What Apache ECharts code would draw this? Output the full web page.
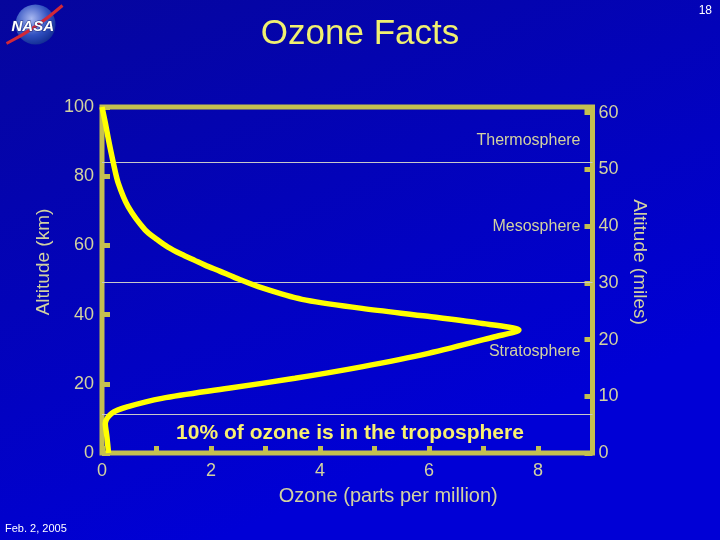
<!DOCTYPE html>
<html><head><meta charset="utf-8">
<script src="https://cdn.jsdelivr.net/npm/echarts@6/dist/echarts.min.js"></script>
<style>html,body{margin:0;padding:0;background:#0000c0}#c{width:720px;height:540px}</style>
</head><body><div id="c"></div>
<script>
// Ozone profile (ppm vs km)
const ozonePpm   = [0, 0.06, 0.12, 0.21, 0.30, 0.48, 0.79, 1.01, 1.21, 1.45, 1.71, 1.89, 2.17, 2.44, 2.94, 3.67, 4.77, 5.98, 6.90, 7.65, 7.21, 5.99, 4.76, 3.54, 2.32, 1.10, 0.48, 0.18, 0.06, 0.09, 0.12];
const altitudeKm = [100, 95.5, 90.5, 83.7, 77.9, 71.2, 64.5, 61.7, 59.5, 57.5, 55.6, 54.3, 52.5, 50.7, 47.7, 44.4, 41.8, 39.5, 37.6, 35.5, 33.6, 28.8, 24.9, 21.6, 18.7, 15.8, 13.4, 11.5, 8.6, 4.7, 0];
const layerBoundariesKm = [84, 49.3, 11.2];
const layerNames = ['Thermosphere', 'Mesosphere', 'Stratosphere'];
const layerLabelKm = [90.2, 65.4, 29.3];
const layerLabelPpm = [8.78, 8.78, 8.78];
const noteText = '10% of ozone is in the troposphere';
const notePos = [4.55, 5.7];
const xRange = [0, 9];
const kmRange = [0, 100];
const milesRange = [0, 61];

const khaki = '#c4c050';
const labelCol = '#d2d2a0';

const chart = echarts.init(document.getElementById('c'));
chart.setOption({
  backgroundColor: new echarts.graphic.LinearGradient(0, 0, 0.3, 1, [
    {offset: 0, color: '#06069c'}, {offset: 1, color: '#0000d6'}]),
  animation: false,
  title: {text: 'Ozone Facts', left: 'center', top: 12,
    textStyle: {color: '#f0f070', fontSize: 35, fontWeight: 'normal', fontFamily: 'Liberation Sans'}},
  grid: {left: 102, right: 127.5, top: 107, bottom: 87, show: true,
    borderColor: khaki, borderWidth: 5, backgroundColor: 'transparent'},
  xAxis: {type: 'value', min: xRange[0], max: xRange[1], interval: 1,
    name: 'Ozone (parts per million)', nameLocation: 'middle', nameGap: 33,
    nameTextStyle: {color: labelCol, fontSize: 20, fontFamily: 'Liberation Sans', padding: [0, 0, 0, 82]},
    axisLine: {show: false}, splitLine: {show: false},
    axisTick: {inside: true, length: 7, lineStyle: {color: khaki, width: 5}},
    axisLabel: {margin: 9, color: labelCol, fontSize: 18, fontFamily: 'Liberation Sans',
      formatter: v => (v % 2 === 0 && v <= 8) ? String(v) : ''}},
  yAxis: [
    {type: 'value', min: kmRange[0], max: kmRange[1], interval: 20, position: 'left',
      name: 'Altitude (km)', nameLocation: 'middle', nameGap: 42, nameRotate: 90,
      nameTextStyle: {color: labelCol, fontSize: 19, fontFamily: 'Liberation Sans', padding: [0, 0, 0, 36]},
      axisLine: {show: false}, splitLine: {show: false},
      axisTick: {inside: true, length: 8, lineStyle: {color: khaki, width: 5}},
      axisLabel: {margin: 8, color: labelCol, fontSize: 18, fontFamily: 'Liberation Sans'}},
    {type: 'value', min: milesRange[0], max: milesRange[1], interval: 10, position: 'right',
      name: 'Altitude (miles)', nameLocation: 'middle', nameGap: 28, nameRotate: -90,
      nameTextStyle: {color: labelCol, fontSize: 19, fontFamily: 'Liberation Sans', padding: [0, 36, 0, 0]},
      axisLine: {show: false}, splitLine: {show: false},
      axisTick: {inside: true, length: 8, lineStyle: {color: khaki, width: 5}},
      axisLabel: {margin: 6, color: labelCol, fontSize: 18, fontFamily: 'Liberation Sans',
        formatter: v => (v % 10 === 0) ? String(v) : ''}}
  ],
  series: [
    {type: 'line', yAxisIndex: 0, smooth: 0.3, symbol: 'none', z: 5,
      lineStyle: {color: '#ffff00', width: 5.5},
      data: ozonePpm.map((x, i) => [x, altitudeKm[i]]),
      markLine: {silent: true, symbol: 'none', label: {show: false},
        lineStyle: {color: '#c8c8c8', width: 1, type: 'solid'},
        data: layerBoundariesKm.map(v => ({yAxis: v}))}},
    {type: 'scatter', yAxisIndex: 0, symbolSize: 0, silent: true, itemStyle: {opacity: 1},
      label: {show: true, position: 'left', distance: 0, color: labelCol, fontSize: 16,
        fontFamily: 'Liberation Sans', formatter: p => layerNames[p.dataIndex]},
      data: layerLabelPpm.map((x, i) => [x, layerLabelKm[i]])},
    {type: 'scatter', yAxisIndex: 0, symbolSize: 0, silent: true, itemStyle: {opacity: 1},
      label: {show: true, position: [0, 0], align: 'center', verticalAlign: 'middle',
        color: '#f8f070', fontSize: 21, fontWeight: 'bold',
        fontFamily: 'Liberation Sans', formatter: () => noteText},
      data: [notePos]}
  ],
  graphic: [
    {type: 'text', right: 8, top: 5, style: {text: '18', fill: '#ffffff', fontSize: 12, fontFamily: 'Liberation Sans'}},
    {type: 'text', left: 5, bottom: 6, style: {text: 'Feb. 2, 2005', fill: '#ffffff', fontSize: 11, fontFamily: 'Liberation Sans'}},
    {type: 'group', left: 4, top: 3, children: [
      {type: 'circle', shape: {cx: 29, cy: 21, r: 20},
        style: {fill: new echarts.graphic.RadialGradient(0.4, 0.35, 0.7, [
          {offset: 0, color: '#a8b8f0'}, {offset: 0.6, color: '#3050c0'}, {offset: 1, color: '#102a90'}])}},
      {type: 'bezierCurve', shape: {x1: 0, y1: 40, cpx1: 20, cpy1: 30, cpx2: 40, cpy2: 16, x2: 56, y2: 2},
        style: {stroke: '#d02838', lineWidth: 3, fill: 'none'}},
      {type: 'text', x: 5, y: 16, style: {text: 'NASA', fill: '#ffffff', fontSize: 15, fontWeight: 'bold',
        fontStyle: 'italic', fontFamily: 'Liberation Sans', stroke: '#203080', lineWidth: 1}}
    ]}
  ]
});
</script></body></html>
